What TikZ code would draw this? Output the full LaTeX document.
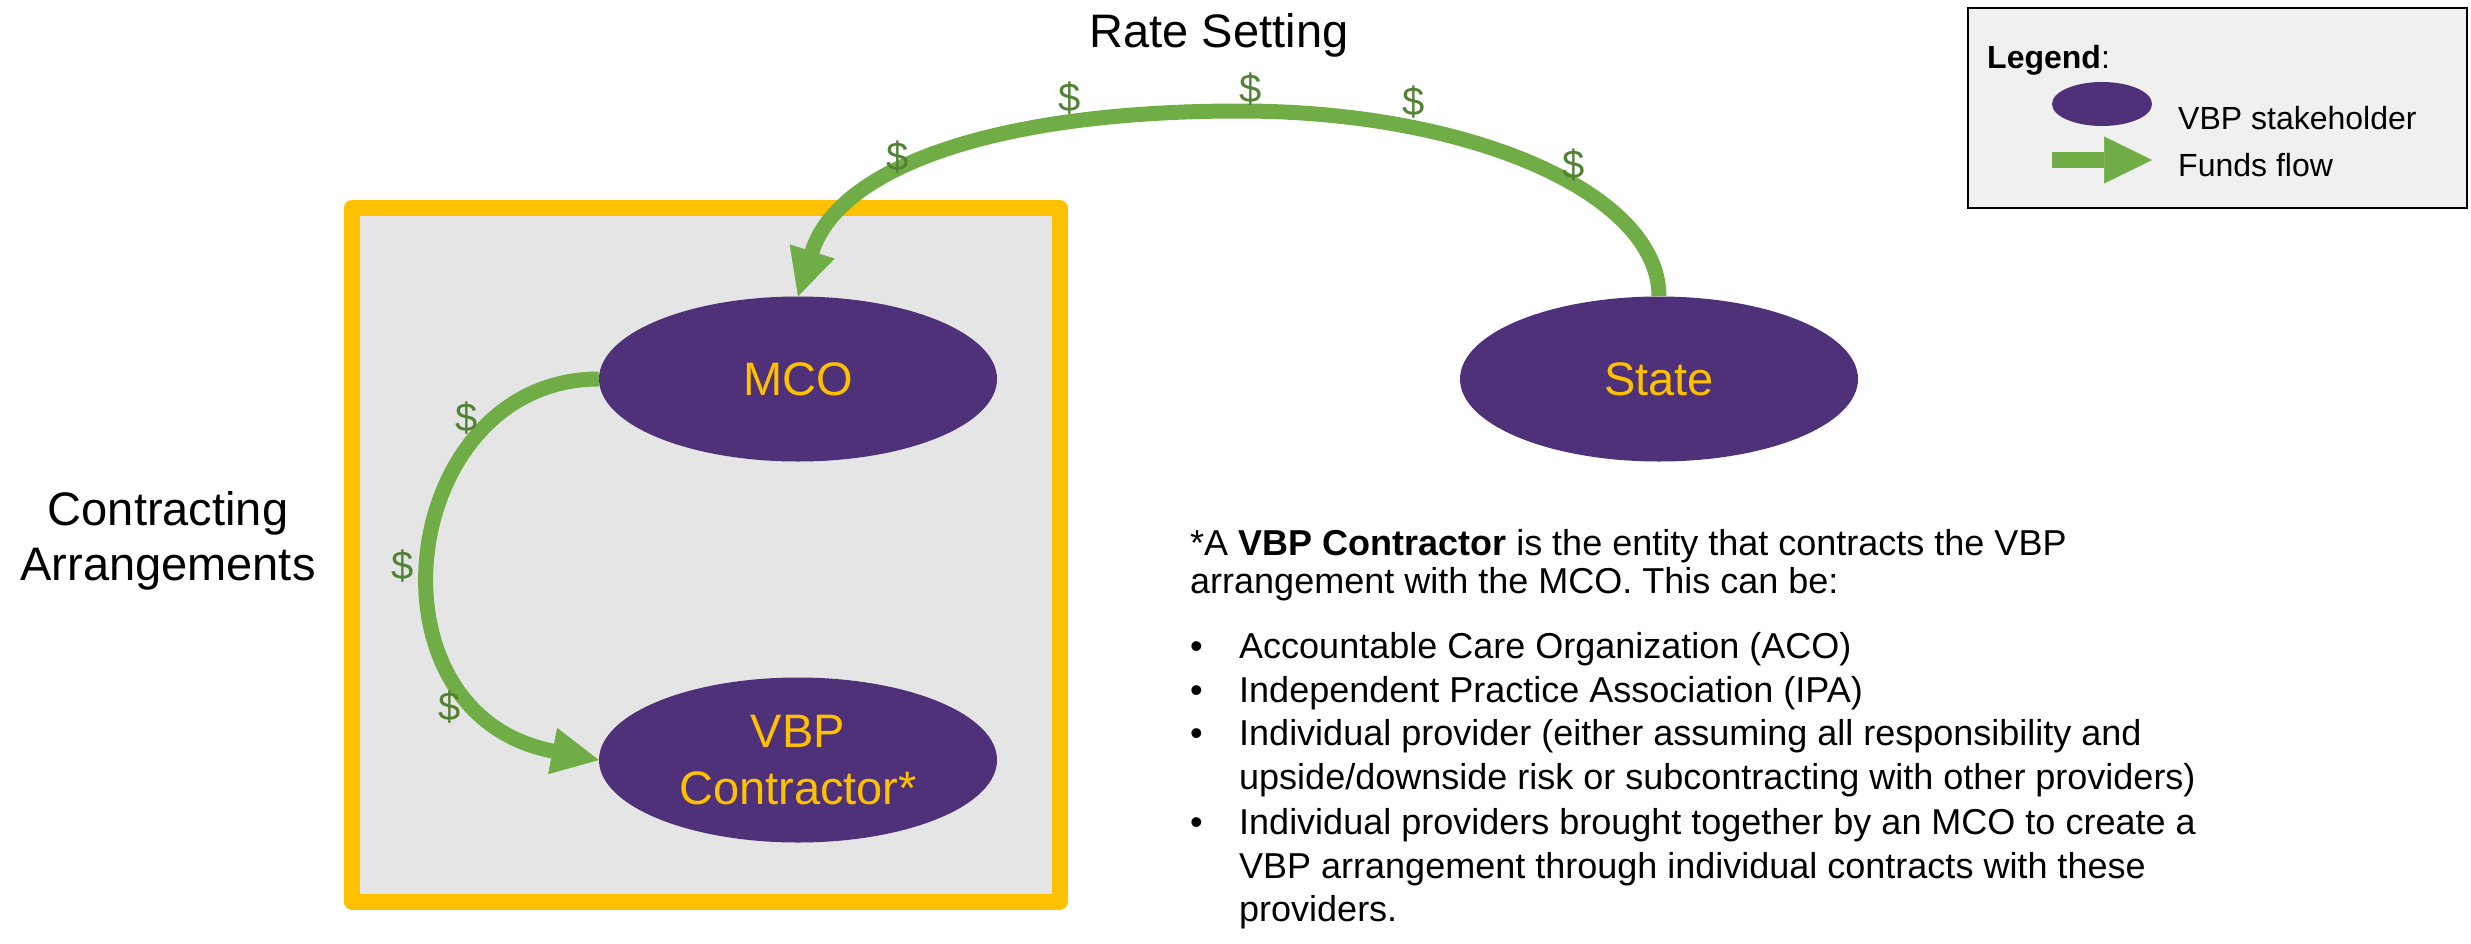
\documentclass[tikz,border=0pt]{standalone}
\usepackage{fontspec}
\setmainfont{Liberation Sans}
\usetikzlibrary{shapes.geometric,arrows.meta}
\definecolor{vbppurple}{HTML}{4F3179}
\definecolor{vbpgold}{HTML}{FFC000}
\definecolor{flowgreen}{HTML}{70AD47}
\definecolor{dollargreen}{HTML}{548235}
\definecolor{boxgray}{HTML}{E5E5E5}
\definecolor{legendgray}{HTML}{F0F0F0}
\begin{document}
\begin{tikzpicture}[x=1pt,y=-1pt,
  stake/.style={ellipse, fill=vbppurple, inner sep=0pt, minimum width=398pt, minimum height=165pt, text=vbpgold, font=\fontsize{47}{57}\selectfont, align=center},
  flow/.style={draw=flowgreen, line width=15pt, -{Triangle[length=47pt,width=47pt,line width=0.5pt]}},
  dollar/.style={text=dollargreen, font=\fontsize{40}{40}\selectfont, inner sep=0pt},
  heading/.style={font=\fontsize{47}{55}\selectfont, inner sep=0pt, anchor=base},
  note/.style={font=\fontsize{36}{38}\selectfont, inner sep=0pt, anchor=base west},
  legendtext/.style={font=\fontsize{32}{36}\selectfont, inner sep=0pt, anchor=base west}]

\useasboundingbox (0,0) rectangle (2471,943);

% contracting arrangements box
\draw[draw=vbpgold, fill=boxgray, line width=16pt, line join=round] (352,208) rectangle (1059.5,901.5);

% stakeholders
\node[stake] (mco) at (798,379) {MCO};
\node[stake] (state) at (1659,379) {State};
\node[stake] (vbp) at (798,760) {VBP\\Contractor*};

% funds flows
\coordinate (rtop) at (1240,111);
\draw[flow] (state.north) .. controls (1659,194) and (1472,111) .. (rtop)
  .. controls (990,111) and (838,169.5) .. (mco.north);
\draw[flow] (mco.west) .. controls (399,379) and (357,713) .. (vbp.west);

% dollar signs
\node[dollar] (d1) at (898,157) {\$};
\node[dollar] (d2) at (1070,98) {\$};
\node[dollar] (d3) at (1251,89) {\$};
\node[dollar] (d4) at (1414,102) {\$};
\node[dollar] (d5) at (1574,165) {\$};
\node[dollar] (d6) at (467,418) {\$};
\node[dollar] (d7) at (403,566) {\$};
\node[dollar] (d8) at (450,707) {\$};

% headings
\node[heading] (rate) at (1219,47) {Rate Setting};
\node[heading] (contr1) at (168,525) {Contracting};
\node[heading] (contr2) at (168,580) {Arrangements};

% note
\node[note] (n1) at (1190,555) {*A \textbf{VBP Contractor} is the entity that contracts the VBP};
\node[note] (n2) at (1190,593) {arrangement with the MCO. This can be:};
\node[note] (b1) at (1190,658) {•};
\node[note] (t1) at (1239,658) {Accountable Care Organization (ACO)};
\node[note] (b2) at (1190,702) {•};
\node[note] (t2) at (1239,702) {Independent Practice Association (IPA)};
\node[note] (b3) at (1190,745) {•};
\node[note] (t3) at (1239,745) {Individual provider (either assuming all responsibility and};
\node[note] (t3b) at (1239,789) {upside/downside risk or subcontracting with other providers)};
\node[note] (b4) at (1190,834) {•};
\node[note] (t4) at (1239,834) {Individual providers brought together by an MCO to create a};
\node[note] (t4b) at (1239,878) {VBP arrangement through individual contracts with these};
\node[note] (t4c) at (1239,921) {providers.};

% legend
\draw[draw=black, line width=2pt, fill=legendgray] (1968,8) rectangle (2467,208);
\node[legendtext] (lgtitle) at (1987,68) {\textbf{Legend}:};
\node[ellipse, fill=vbppurple, minimum width=100pt, minimum height=44pt, inner sep=0pt] (lgell) at (2102,104) {};
\node[legendtext] (lgstake) at (2178,129) {VBP stakeholder};
\coordinate (lga) at (2052,160);
\coordinate (lgb) at (2152,160);
\draw[draw=flowgreen, line width=16pt, -{Triangle[length=48pt,width=47pt,line width=0.5pt]}] (lga) -- (lgb);
\node[legendtext] (lgflow) at (2178,176) {Funds flow};
\end{tikzpicture}
\end{document}
